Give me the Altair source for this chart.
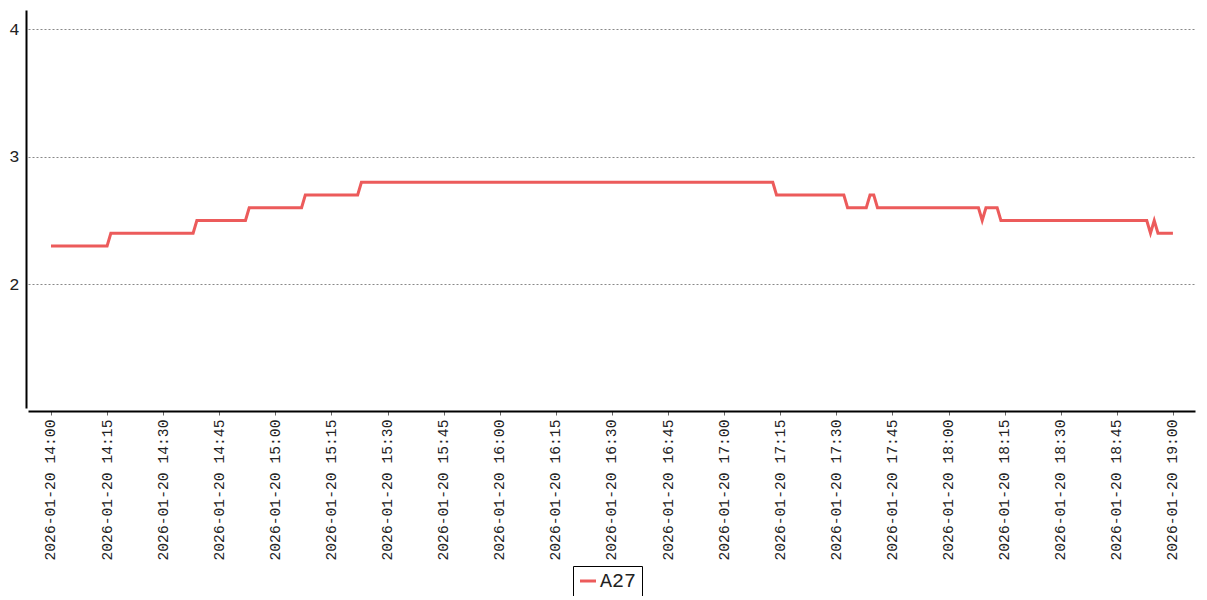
import altair as alt
import pandas as pd

# vertices of the line (time of day on 2026-01-20, value)
times = ["14:00", "14:15", "14:16", "14:38", "14:39", "14:52", "14:53", "15:07",
         "15:08", "15:22", "15:23", "17:13", "17:14", "17:32", "17:33", "17:38",
         "17:39", "17:40", "17:41", "18:08", "18:09", "18:10", "18:13", "18:14",
         "18:53", "18:54", "18:55", "18:56", "19:00"]
values = [2.3, 2.3, 2.4, 2.4, 2.5, 2.5, 2.6, 2.6,
          2.7, 2.7, 2.8, 2.8, 2.7, 2.7, 2.6, 2.6,
          2.7, 2.7, 2.6, 2.6, 2.5, 2.6, 2.6, 2.5,
          2.5, 2.4, 2.5, 2.4, 2.4]
series = "A27"
tick_times = ["14:00", "14:15", "14:30", "14:45", "15:00", "15:15", "15:30", "15:45",
              "16:00", "16:15", "16:30", "16:45", "17:00", "17:15", "17:30", "17:45",
              "18:00", "18:15", "18:30", "18:45", "19:00"]
y_ticks = [2, 3, 4]


def dt(hm, sec=0):
    h, m = hm.split(":")
    return alt.DateTime(year=2026, month=1, date=20, hours=int(h), minutes=int(m), seconds=sec)


df = pd.DataFrame({
    "t": ["2026-01-20T" + t + ":00" for t in times],
    "v": values,
    "s": [series] * len(values),
})

FONT = "Liberation Mono, Courier New, monospace"

chart = alt.Chart(df).mark_line(strokeWidth=3, strokeJoin="miter").encode(
    x=alt.X("t:T",
            scale=alt.Scale(domain=[dt("13:53", 51), dt("19:05", 54)], nice=False),
            axis=alt.Axis(values=[dt(t) for t in tick_times],
                          format="%Y-%m-%d %H:%M", labelAngle=-90,
                          labelFont=FONT, labelFontSize=14.7, labelColor="#222",
                          grid=False, domainColor="#000", domainWidth=2,
                          tickColor="#666", tickSize=4, labelPadding=4,
                          offset=3, title=None, labelOverlap=False)),
    y=alt.Y("v:Q",
            scale=alt.Scale(domain=[1.03, 4.15], nice=False, zero=False),
            axis=alt.Axis(values=y_ticks, labelFont=FONT, labelFontSize=17,
                          labelColor="#222", ticks=False, labelPadding=7,
                          domainColor="#000", domainWidth=2, offset=2,
                          grid=True, gridColor="#888", gridDash=[2, 2],
                          gridWidth=1, title=None)),
    color=alt.Color("s:N",
                    scale=alt.Scale(domain=[series], range=["#ec5b5b"]),
                    legend=alt.Legend(title=None, orient="none", legendX=545,
                                      legendY=556, symbolType="stroke",
                                      symbolStrokeWidth=3, symbolSize=256,
                                      labelFont=FONT, labelFontSize=20,
                                      labelColor="#222", strokeColor="#000",
                                      padding=5, labelOffset=2)),
).properties(
    width=1167,
    height=398,
    padding={"left": 20, "top": 2, "right": 4, "bottom": 188},
    autosize=alt.AutoSizeParams(type="none"),
).configure_view(stroke=None)

chart.save("out.html", embed_options={"renderer": "svg", "actions": False})
